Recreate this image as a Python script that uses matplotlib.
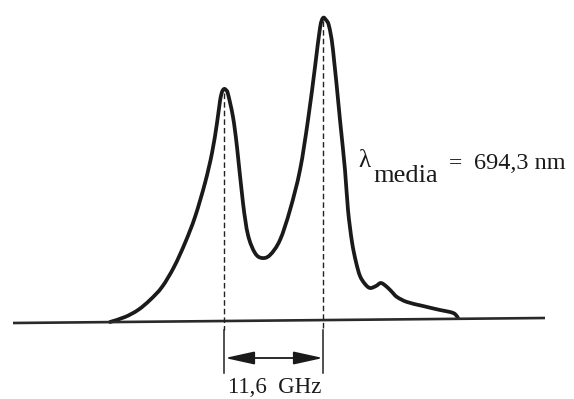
import matplotlib
matplotlib.use("Agg")
import matplotlib.pyplot as plt
from matplotlib.path import Path
from matplotlib.patches import PathPatch

# Curve (x: frequency position, y: vertical position, image units)
freq = [110, 125, 138, 150, 162, 174, 185, 195, 205, 212, 217, 220, 222, 224,
        226, 228, 233, 237, 243, 248, 255, 262, 270, 280, 290, 300, 308, 315, 320,
        323, 326, 329, 333, 340, 345, 348, 352, 356, 360, 365, 370, 376, 381, 387,
        392, 397, 407, 423, 440, 450, 455, 458]
level = [322, 317, 310, 300, 287, 267, 243, 217, 183, 153, 123, 101, 92, 89,
         90, 94, 117, 147, 203, 235, 253, 258, 255, 240, 210, 170, 120, 67, 28,
         18, 20, 26, 50, 120, 170, 210, 242, 262, 276, 284, 288, 286, 283, 287,
         292, 297, 302, 306, 310, 312, 314, 318]

peak_freqs = [224, 323]
peak_levels = [89, 17]
baseline_x = [13, 545]
baseline_y = [323, 318]
separation_label = "11,6  GHz"
wavelength_value = "694,3 nm"

serif = ["Liberation Serif", "DejaVu Serif"]
ink = "#1a1a1a"

fig = plt.figure(figsize=(5.74, 3.99), dpi=100)
ax = fig.add_axes([0, 0, 1, 1])
ax.set_xlim(0, 574)
ax.set_ylim(399, 0)
ax.axis("off")

ax.plot(baseline_x, baseline_y, color="#2a2a2a", lw=1.9, solid_capstyle="butt")

# smooth rendering of the traced points (Catmull-Rom -> cubic Bezier)
pts = list(zip(freq, level))
verts = [pts[0]]
codes = [Path.MOVETO]
n = len(pts)
for i in range(n - 1):
    p0 = pts[i - 1] if i > 0 else pts[i]
    p1 = pts[i]
    p2 = pts[i + 1]
    p3 = pts[i + 2] if i + 2 < n else pts[i + 1]
    c1 = (p1[0] + (p2[0] - p0[0]) / 6.0, p1[1] + (p2[1] - p0[1]) / 6.0)
    c2 = (p2[0] - (p3[0] - p1[0]) / 6.0, p2[1] - (p3[1] - p1[1]) / 6.0)
    verts += [c1, c2, p2]
    codes += [Path.CURVE4] * 3
ax.add_patch(PathPatch(Path(verts, codes), facecolor="none", edgecolor=ink, lw=2.7,
                       joinstyle="round", capstyle="round"))

for px, py in zip(peak_freqs, peak_levels):
    ax.plot([px, px], [py + 4, 330], color="#222222", lw=1.0, linestyle=(0, (4, 2.2)))
    ax.plot([px, px], [330, 373], color="#222222", lw=1.1)

ax.annotate("", xy=(peak_freqs[0] + 1, 358), xytext=(peak_freqs[1], 358),
            arrowprops=dict(arrowstyle="<|-|>,head_length=1.0,head_width=0.22",
                            mutation_scale=18, color=ink, lw=1.3,
                            shrinkA=0, shrinkB=0))

ax.text((peak_freqs[0] + peak_freqs[1]) / 2 + 1, 393, separation_label,
        fontsize=16.5, family=serif, ha="center", va="baseline", color=ink)

ax.text(358, 167, "λ", fontsize=18, family=serif, ha="left", va="baseline", color=ink)
ax.text(373, 182, "media", fontsize=19, family=serif, ha="left", va="baseline", color=ink)
ax.text(449, 169, "=", fontsize=17, family=serif, ha="left", va="baseline", color=ink)
ax.text(474, 169, wavelength_value, fontsize=17.5, family=serif, ha="left", va="baseline",
        color=ink)

fig.savefig("out.png", dpi=100, facecolor="white")
